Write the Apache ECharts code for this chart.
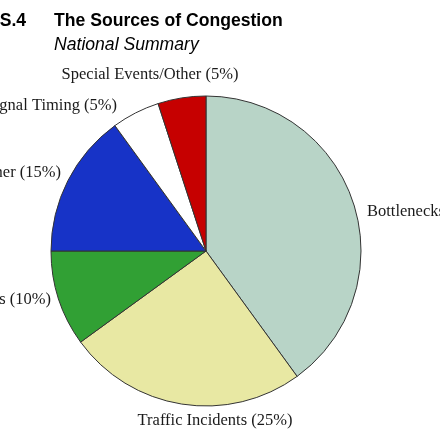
<!DOCTYPE html>
<html>
<head>
<meta charset="utf-8">
<script src="https://cdn.jsdelivr.net/npm/echarts@6/dist/echarts.min.js"></script>
<style>
html,body{margin:0;padding:0;background:#fff;}
#chart{width:440px;height:440px;}
</style>
</head>
<body>
<div id="chart"></div>
<script>
var categories = ['Bottlenecks', 'Traffic Incidents', 'Work Zones', 'Bad Weather', 'Poor Signal Timing', 'Special Events/Other'];
var shares = [40, 25, 10, 15, 5, 5];
var colors = ['#b8d4c7', '#e8e8a3', '#31a034', '#1733c7', '#ffffff', '#c60000'];
var labelPos = [
  [367, 212, 'left'],
  [215, 421, 'center'],
  [51, 300, 'right'],
  [61, 173, 'right'],
  [117, 106, 'right'],
  [150, 75, 'center']
];

var chart = echarts.init(document.getElementById('chart'));
chart.setOption({
  animation: false,
  title: [
    { text: 'ES.4', left: -12, top: 12, padding: 0, textStyle: { fontFamily: 'Liberation Sans', fontWeight: 'bold', fontSize: 17.6, color: '#000' } },
    { text: 'The Sources of Congestion', left: 54, top: 12, padding: 0, textStyle: { fontFamily: 'Liberation Sans', fontWeight: 'bold', fontSize: 17.6, color: '#000' } },
    { text: 'National Summary', left: 54, top: 36, padding: 0, textStyle: { fontFamily: 'Liberation Sans', fontStyle: 'italic', fontWeight: 'normal', fontSize: 17.6, color: '#000' } }
  ],
  series: [{
    type: 'pie',
    center: [206, 251],
    radius: 155,
    startAngle: 90,
    clockwise: true,
    silent: true,
    data: categories.map(function (c, i) {
      return { name: c, value: shares[i], itemStyle: { color: colors[i] } };
    }),
    itemStyle: { borderColor: '#333', borderWidth: 1 },
    label: {
      show: true,
      position: 'outside',
      overflow: 'none',
      formatter: function (p) { return p.name + ' (' + p.value + '%)'; },
      fontFamily: 'Liberation Serif',
      fontSize: 16.5,
      color: '#1a1a1a'
    },
    labelLine: { show: false },
    labelLayout: function (p) {
      var L = labelPos[p.dataIndex];
      return { x: L[0], y: L[1], align: L[2], verticalAlign: 'middle' };
    },
    emphasis: { disabled: true }
  }]
});
</script>
</body>
</html>
